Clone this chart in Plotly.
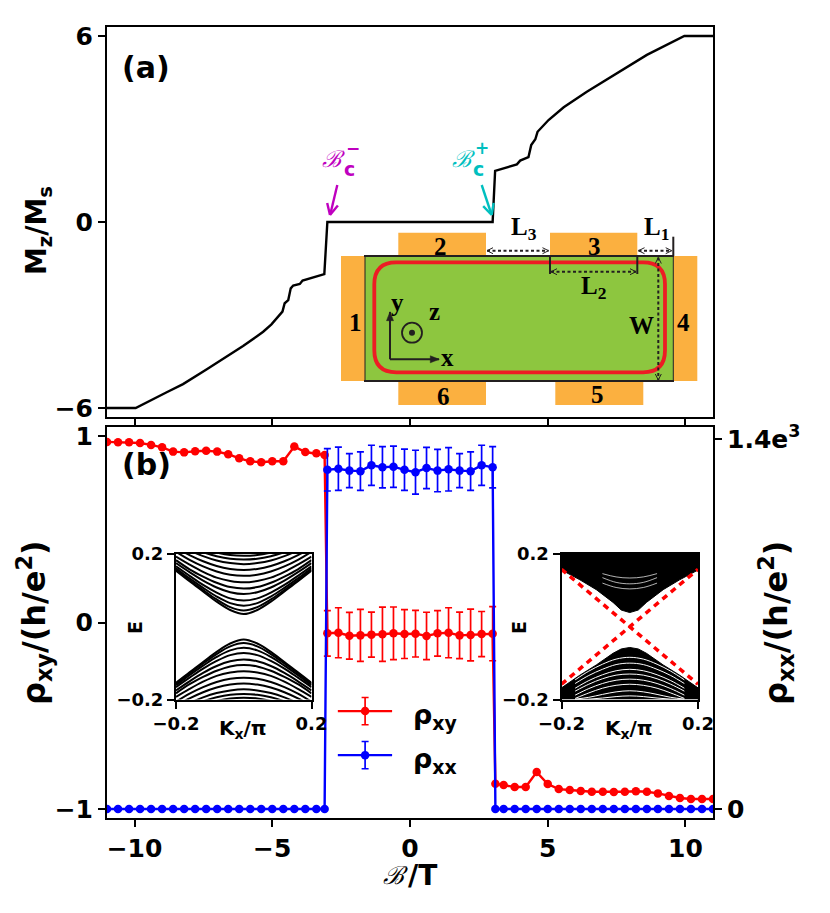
import plotly.graph_objects as go

W, H = 830, 913
FONT = "DejaVu Sans"
SERIF = "Liberation Serif"
RED, BLUE = "#ff0000", "#0000ff"
MAGENTA, CYAN = "#bf00bf", "#00bfbf"
ORANGE, GREEN, LOOP, DARK = "#fbb040", "#8dc63f", "#ed1c24", "#231f20"

# ---- panel (a) magnetisation
b_m = [-11, -9.96, -8.85, -8.24, -7.39, -7.03, -6.42, -6.06, -5.58, -5.33, -5.03, -4.63, -4.55, -4.42, -4.33, -4.24, -4.0, -3.9, -3.11, -3.0,
       3.0, 3.09, 3.88, 4.0, 4.3, 4.4, 4.55, 4.63, 5.03, 5.58, 6.42, 7.39, 8.6, 9.96, 11]
m_z = [-6, -6, -5.5, -5.23, -4.76, -4.56, -4.2, -4.0, -3.7, -3.54, -3.3, -2.89, -2.62, -2.52, -2.14, -2.05, -2.0, -1.89, -1.68, 0,
       0, 1.65, 1.86, 1.98, 2.09, 2.48, 2.67, 2.91, 3.29, 3.7, 4.2, 4.74, 5.39, 6, 6]

# ---- panel (b) transport
b_left = [-11, -10.6, -10.2, -9.8, -9.4, -9.0, -8.6, -8.2, -7.8, -7.4, -7.0, -6.6, -6.2, -5.8, -5.4, -5.0, -4.6, -4.2, -3.8, -3.4, -3.1]
b_mid = [-3.0, -2.6, -2.2, -1.8, -1.4, -1.0, -0.6, -0.2, 0.2, 0.6, 1.0, 1.4, 1.8, 2.2, 2.6, 3.0]
b_right = [3.1, 3.4, 3.8, 4.2, 4.6, 5.0, 5.4, 5.8, 6.2, 6.6, 7.0, 7.4, 7.8, 8.2, 8.6, 9.0, 9.4, 9.8, 10.2, 10.6, 11]
rho_xy_left = [0.968, 0.966, 0.966, 0.962, 0.952, 0.939, 0.916, 0.912, 0.918, 0.921, 0.916, 0.902, 0.880, 0.864, 0.859, 0.864, 0.864, 0.943, 0.914, 0.907, 0.898]
rho_xy_mid = [-0.058, -0.055, -0.071, -0.069, -0.065, -0.063, -0.058, -0.062, -0.060, -0.072, -0.058, -0.055, -0.069, -0.067, -0.062, -0.060]
rho_xy_right = [-0.864, -0.871, -0.882, -0.882, -0.802, -0.866, -0.893, -0.898, -0.903, -0.907, -0.907, -0.909, -0.907, -0.905, -0.907, -0.916, -0.930, -0.941, -0.946, -0.946, -0.946]
rho_xy_err = [0.122, 0.134, 0.125, 0.139, 0.121, 0.145, 0.141, 0.131, 0.125, 0.127, 0.122, 0.134, 0.125, 0.139, 0.121, 0.145]
rho_xx_mid = [1283, 1287, 1280, 1278, 1300, 1293, 1295, 1283, 1274, 1290, 1280, 1285, 1280, 1278, 1300, 1293]
rho_xx_err = [80, 82, 64, 73, 76, 78, 78, 78, 83, 78, 80, 82, 64, 73, 76, 78]
rho_xx_off_left = [0] * 21
rho_xx_off_right = [0] * 21

# ---- left inset: gapped sub-bands, half of each band (k >= 0)
k_half = [0, 0.04, 0.08, 0.12, 0.16, 0.2]
bands_gapped = [
    [.035, .046, .069, .097, .125, .154], [.045, .054, .075, .101, .128, .157],
    [.058, .065, .083, .107, .133, .161], [.072, .078, .094, .115, .140, .166],
    [.090, .095, .108, .127, .150, .175], [.105, .109, .121, .138, .158, .183],
    [.122, .126, .135, .151, .171, .193], [.140, .143, .152, .166, .184, .206],
    [.156, .159, .167, .180, .197, .217], [.172, .175, .182, .194, .210, .228],
    [.185, .187, .194, .205, .220, .238], [.195, .197, .204, .215, .229, .246],
]

# ---- right inset: filled band continua, white gaps and red edge states
k_edge = [-0.2, -0.146, -0.098, -0.049, -0.025, 0, 0.025, 0.049, 0.098, 0.146, 0.2]
e_upper_edge = [.156, .129, .102, .067, .046, .039, .046, .067, .102, .129, .156]
e_lower_edge = [-.168, -.133, -.105, -.073, -.061, -.057, -.061, -.073, -.105, -.133, -.168]
k_gap = [0, 0.04, 0.08, 0.12, 0.16]
gaps_lower = [
    [-.084, -.089, -.103, -.122, -.146], [-.100, -.104, -.117, -.134, -.156],
    [-.117, -.121, -.132, -.148, -.169], [-.130, -.133, -.143, -.158, -.177],
    [-.144, -.147, -.156, -.170, -.188], [-.158, -.161, -.169, -.182, -.197],
    [-.176, -.179, -.186, -.194, -.199], [-.190, -.192, -.196, -.199, -.2],
]
gaps_upper = [[.118, .122, .135], [.134, .137, .146], [.104, .108, .120]]
k_edge_state = [-0.2, 0.2]
e_edge_state = [-0.158, 0.158]

def px(x): return x / W
def py(y): return 1 - y / H

fig = go.Figure()

# panel a
fig.add_trace(go.Scatter(x=b_m, y=m_z, mode="lines", line=dict(color="black", width=2.4), xaxis="x", yaxis="y", showlegend=False))

# panel b
marker = dict(size=8.5)
fig.add_trace(go.Scatter(x=b_left + b_mid + b_right, y=rho_xy_left + rho_xy_mid + rho_xy_right, mode="lines+markers",
                         line=dict(color=RED, width=2.4), marker=dict(color=RED, **marker),
                         error_y=dict(type="data", array=[0] * 21 + rho_xy_err + [0] * 21, color=RED, thickness=1.7, width=3.5),
                         xaxis="x2", yaxis="y2", showlegend=False))
fig.add_trace(go.Scatter(x=b_left + b_mid + b_right, y=rho_xx_off_left + rho_xx_mid + rho_xx_off_right, mode="lines+markers",
                         line=dict(color=BLUE, width=2.4), marker=dict(color=BLUE, **marker),
                         error_y=dict(type="data", array=[0] * 21 + rho_xx_err + [0] * 21, color=BLUE, thickness=1.7, width=3.5),
                         xaxis="x2", yaxis="y3", showlegend=False))

# legend keys, drawn with real error bars
leg_x = [-2.62, -0.65]
leg_mid = -1.63
for yy, col, err in ((-0.475, RED, 0.073), (-0.711, BLUE, 0.073)):
    fig.add_trace(go.Scatter(x=leg_x, y=[yy] * 2, mode="lines", line=dict(color=col, width=2.4),
                             xaxis="x2", yaxis="y2", showlegend=False))
    fig.add_trace(go.Scatter(x=[leg_mid], y=[yy], mode="markers", marker=dict(color=col, size=8.5),
                             error_y=dict(type="data", array=[err], color=col, thickness=1.7, width=3.5),
                             xaxis="x2", yaxis="y2", showlegend=False))

# left inset
for row in bands_gapped:
    xs = [-k for k in k_half[::-1]] + k_half[1:]
    for sign in (1, -1):
        half = [sign * e for e in row]
        ys = half[::-1] + half[1:]
        fig.add_trace(go.Scatter(x=xs, y=ys, mode="lines", line=dict(color="black", width=2, shape="spline"),
                                 xaxis="x4", yaxis="y4", showlegend=False))

# right inset
fig.add_trace(go.Scatter(x=[-0.2] + k_edge + [0.2], y=[0.2] + e_upper_edge + [0.2], mode="lines", fill="toself", fillcolor="black",
                         line=dict(color="black", width=1), xaxis="x5", yaxis="y5", showlegend=False))
fig.add_trace(go.Scatter(x=[-0.2] + k_edge + [0.2], y=[-0.2] + e_lower_edge + [-0.2], mode="lines", fill="toself", fillcolor="black",
                         line=dict(color="black", width=1), xaxis="x5", yaxis="y5", showlegend=False))
for row in gaps_lower:
    xs = [-k for k in k_gap[::-1]] + k_gap[1:]
    ys = row[::-1] + row[1:]
    fig.add_trace(go.Scatter(x=xs, y=ys, mode="lines", line=dict(color="white", width=1, shape="spline"),
                             xaxis="x5", yaxis="y5", showlegend=False))
for row in gaps_upper:
    xs = [-k for k in k_gap[:3][::-1]] + k_gap[1:3]
    ys = row[::-1] + row[1:]
    fig.add_trace(go.Scatter(x=xs, y=ys, mode="lines", line=dict(color="white", width=0.7, shape="spline"),
                             xaxis="x5", yaxis="y5", showlegend=False))
fig.add_trace(go.Scatter(x=k_edge_state, y=e_edge_state, mode="lines", line=dict(color=RED, width=3.5, dash="6px,5px"),
                         xaxis="x5", yaxis="y5", showlegend=False))
fig.add_trace(go.Scatter(x=k_edge_state, y=e_edge_state[::-1], mode="lines", line=dict(color=RED, width=3.5, dash="6px,5px"),
                         xaxis="x5", yaxis="y5", showlegend=False))

# ---- schematic (decoration, in page pixels)
shapes = []
def rect(x0, y0, x1, y1, fill, line=None, lw=0):
    shapes.append(dict(type="rect", xref="paper", yref="paper", x0=px(x0), x1=px(x1), y0=py(y0), y1=py(y1),
                       fillcolor=fill, line=dict(color=line or fill, width=lw)))
def seg(x0, y0, x1, y1, col=DARK, lw=2, dash="solid"):
    shapes.append(dict(type="line", xref="paper", yref="paper", x0=px(x0), x1=px(x1), y0=py(y0), y1=py(y1),
                       line=dict(color=col, width=lw, dash=dash)))
def head(x, y, dx, dy, col=DARK, lw=1, s=6):
    nx, ny = -dy, dx
    seg(x, y, x - dx * s + nx * s * .5, y - dy * s + ny * s * .5, col, lw)
    seg(x, y, x - dx * s - nx * s * .5, y - dy * s - ny * s * .5, col, lw)
def dbl(x0, y0, x1, y1):
    seg(x0, y0, x1, y1, DARK, 2, "3px,2.5px")
    dx = 1 if x1 > x0 else 0
    dy = 1 if y1 > y0 else 0
    head(x1, y1, dx, dy)
    head(x0, y0, -dx, -dy)

rect(341, 256, 365, 381, ORANGE)
rect(673.3, 256, 697.3, 381, ORANGE)
rect(398.3, 232.7, 486, 256, ORANGE)
rect(550, 232.7, 637.3, 256, ORANGE)
rect(398.3, 381, 486, 405, ORANGE)
rect(555.3, 381, 643.3, 405, ORANGE)
rect(365, 256, 673.3, 381, GREEN)
seg(365, 256, 365, 381, DARK, 1)
seg(673.3, 256, 673.3, 381, DARK, 1)
seg(364, 256, 674, 256, DARK, 2)
seg(364, 381, 674, 381, DARK, 2)
xa, xb, ya, yb, r = 374.3, 665, 262.3, 372.3, 22
path = (f"M {px(xa+r)} {py(ya)} L {px(xb-r)} {py(ya)} Q {px(xb)} {py(ya)} {px(xb)} {py(ya+r)} "
        f"L {px(xb)} {py(yb-r)} Q {px(xb)} {py(yb)} {px(xb-r)} {py(yb)} L {px(xa+r)} {py(yb)} "
        f"Q {px(xa)} {py(yb)} {px(xa)} {py(yb-r)} L {px(xa)} {py(ya+r)} Q {px(xa)} {py(ya)} {px(xa+r)} {py(ya)} Z")
shapes.append(dict(type="path", xref="paper", yref="paper", path=path, line=dict(color=LOOP, width=3.8)))
seg(550, 256, 550, 274)
seg(637.3, 256, 637.3, 274)
seg(673.3, 236.7, 673.3, 256)
dbl(487, 250.7, 548.5, 250.7)
dbl(638.5, 250.7, 671.7, 250.7)
dbl(551, 271.7, 636, 271.7)
dbl(658.3, 257.5, 658.3, 380)
seg(390, 359.3, 390, 312)
seg(390, 359.3, 439, 359.3)
for args in ((390, 311.7, 0, -1), (439.3, 359.3, 1, 0)):
    x, y, dx, dy = args
    nx, ny = -dy, dx
    p = f"M {px(x)} {py(y)} L {px(x - dx*9 + nx*3.5)} {py(y - dy*9 + ny*3.5)} L {px(x - dx*9 - nx*3.5)} {py(y - dy*9 - ny*3.5)} Z"
    shapes.append(dict(type="path", xref="paper", yref="paper", path=p, fillcolor=DARK, line=dict(color=DARK, width=0.5)))
shapes.append(dict(type="circle", xref="paper", yref="paper", x0=px(402), x1=px(422), y0=py(342.7), y1=py(322.7),
                   line=dict(color=DARK, width=1.8)))
shapes.append(dict(type="circle", xref="paper", yref="paper", x0=px(409), x1=px(415), y0=py(335.7), y1=py(329.7),
                   fillcolor=DARK, line=dict(color=DARK, width=0)))
seg(337.3, 185, 330.6, 213, MAGENTA, 2.4)
head(330, 215, -0.23, 0.97, MAGENTA, 2.4, 11)
seg(481.7, 185, 491, 213, CYAN, 2.4)
head(491.7, 215, 0.3, 0.95, CYAN, 2.4, 11)

# ---- text
ann = []
def text(x, y, t, size, font=FONT, color="black", angle=0):
    ann.append(dict(xref="paper", yref="paper", x=px(x), y=py(y), text=t, showarrow=False, xanchor="center", yanchor="middle",
                    textangle=angle, font=dict(family=font, size=size, color=color)))

text(146, 68, "<b>(a)</b>", 30)
text(146, 465, "<b>(b)</b>", 30)
text(38, 231, "<b>M<sub>z</sub>/M<sub>s</sub></b>", 28, angle=-90)
text(34, 623, "<b>ρ<sub>xy</sub>/(h/e<sup>2</sup>)</b>", 32, angle=-90)
text(776, 623, "<b>ρ<sub>xx</sub>/(h/e<sup>2</sup>)</b>", 32, angle=-90)
text(395, 875, "<i>ℬ</i>", 25, "DejaVu Serif")
text(422, 875, "<b>/T</b>", 28)
text(435, 716, "<b>ρ<sub>xy</sub></b>", 27)
text(435, 760, "<b>ρ<sub>xx</sub></b>", 27)
text(135, 628, "<b>E</b>", 19, angle=-90)
text(243, 729, "<b>K<sub>x</sub>/π</b>", 20)
text(519, 628, "<b>E</b>", 19, angle=-90)
text(629, 729, "<b>K<sub>x</sub>/π</b>", 20)
text(333, 159, "<i>ℬ</i>", 23, "DejaVu Serif", MAGENTA)
text(349, 169, "<b>c</b>", 19, color=MAGENTA)
text(353, 148, "<b>−</b>", 17, color=MAGENTA)
text(463, 159, "<i>ℬ</i>", 23, "DejaVu Serif", CYAN)
text(478, 169, "<b>c</b>", 19, color=CYAN)
text(482, 148, "<b>+</b>", 17, color=CYAN)
for x, y, t in ((355, 322, "1"), (440.7, 246, "2"), (594, 246, "3"), (683.3, 322, "4"), (597.3, 394, "5"), (443.3, 396, "6"),
                (641, 326, "W"), (397, 302, "y"), (434, 311, "z"), (447, 357, "x")):
    text(x, y, f"<b>{t}</b>", 25, SERIF)
for x, y, t in ((524, 229, "3"), (593, 288, "2"), (656, 229, "1")):
    text(x, y, f"<b>L<sub>{t}</sub></b>", 25, SERIF)

axis = dict(showline=True, linecolor="black", linewidth=2, ticks="outside", ticklen=7, tickwidth=2, tickcolor="black", automargin=False,
            showgrid=False, zeroline=False, tickfont=dict(family=FONT, size=25, color="black"))
ins = dict(axis, tickfont=dict(family=FONT, size=18, color="black"), mirror=True, ticklen=7, tickwidth=2)
xdom = [px(107), px(713)]
bold = lambda items: [f"<b>{i}</b>" for i in items]

fig.update_layout(
    width=W, height=H, margin=dict(l=0, r=0, t=0, b=0, pad=0), paper_bgcolor="white", plot_bgcolor="white", showlegend=False,
    shapes=shapes, annotations=ann,
    xaxis=dict(axis, domain=xdom, anchor="y", range=[-11, 11], tickvals=[-10, -5, 0, 5, 10], showticklabels=False, mirror=True),
    yaxis=dict(axis, domain=[py(417), py(27)], anchor="x", range=[-6.29, 6.29], tickvals=[-6, 0, 6], ticktext=bold(["−6", "0", "6"]), mirror=True),
    xaxis2=dict(axis, domain=xdom, anchor="y2", range=[-11, 11], tickvals=[-10, -5, 0, 5, 10], ticktext=bold(["−10", "−5", "0", "5", "10"]), mirror=True),
    yaxis2=dict(axis, domain=[py(818), py(427)], anchor="x2", range=[-1.048, 1.048], tickvals=[-1, 0, 1], ticktext=bold(["−1", "0", "1"])),
    yaxis3=dict(axis, overlaying="y2", side="right", anchor="x2", range=[-34, 1445], tickvals=[0, 1400], ticktext=bold(["0", "1.4e<sup>3</sup>"])),
    xaxis4=dict(ins, domain=[px(176), px(311.5)], anchor="y4", range=[-0.2, 0.2], tickvals=[-0.2, 0.2], ticktext=bold(["−0.2", "0.2"])),
    yaxis4=dict(ins, domain=[py(699.5), py(554)], anchor="x4", range=[-0.2, 0.2], tickvals=[-0.2, 0.2], ticktext=bold(["−0.2", "0.2"])),
    xaxis5=dict(ins, domain=[px(561.5), px(698)], anchor="y5", range=[-0.2, 0.2], tickvals=[-0.2, 0.2], ticktext=bold(["−0.2", "0.2"])),
    yaxis5=dict(ins, domain=[py(699.5), py(554)], anchor="x5", range=[-0.2, 0.2], tickvals=[-0.2, 0.2], ticktext=bold(["−0.2", "0.2"])),
)
fig.write_html("out.html", config=dict(displayModeBar=False), post_script="document.body.style.margin='0';document.body.style.overflow='hidden';")
